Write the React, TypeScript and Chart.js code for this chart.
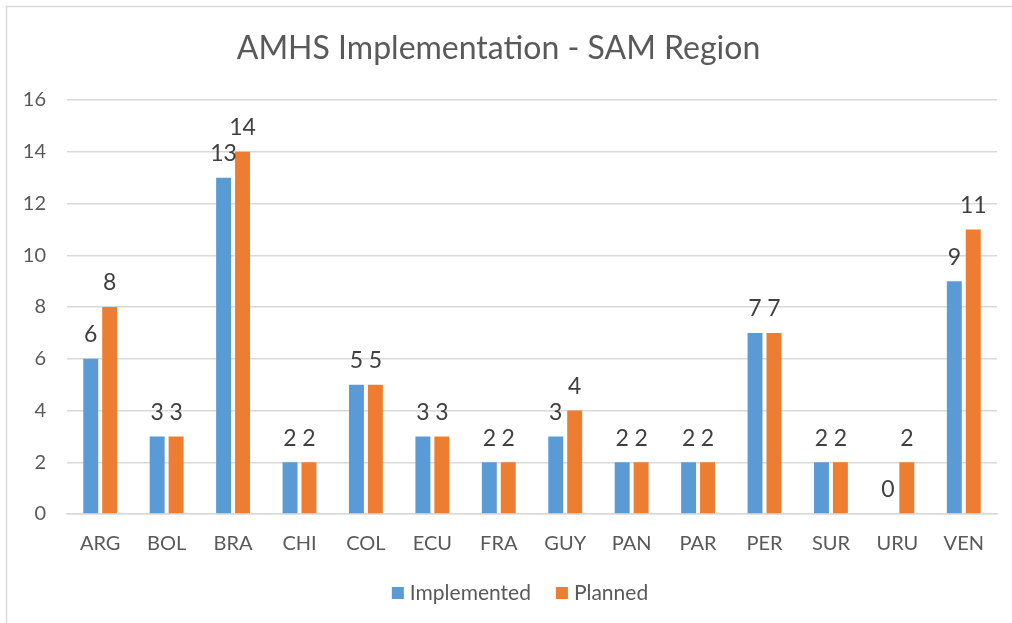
import React, { useEffect, useRef } from "react";
import { Chart, registerables } from "chart.js";

Chart.register(...registerables);

const categories = ["ARG", "BOL", "BRA", "CHI", "COL", "ECU", "FRA", "GUY", "PAN", "PAR", "PER", "SUR", "URU", "VEN"];
const implemented = [6, 3, 13, 2, 5, 3, 2, 3, 2, 2, 7, 2, 0, 9];
const planned = [8, 3, 14, 2, 5, 3, 2, 4, 2, 2, 7, 2, 2, 11];
const yTicks = [0, 2, 4, 6, 8, 10, 12, 14, 16];

const FONT = "Lato, 'Open Sans', sans-serif";

const framePlugin = {
  id: "frame",
  beforeDraw(chart: any) {
    const ctx = chart.ctx;
    ctx.save();
    ctx.fillStyle = "#ffffff";
    ctx.fillRect(0, 0, chart.width, chart.height);
    ctx.strokeStyle = "#D9D9D9";
    ctx.lineWidth = 1.5;
    ctx.beginPath();
    ctx.moveTo(6.5, chart.height + 5);
    ctx.lineTo(6.5, 6.5);
    ctx.lineTo(chart.width + 5, 6.5);
    ctx.stroke();
    ctx.restore();
  },
};

const labelPlugin = {
  id: "barLabels",
  afterDatasetsDraw(chart: any) {
    const ctx = chart.ctx;
    ctx.save();
    ctx.fillStyle = "#404040";
    ctx.font = `23px ${FONT}`;
    ctx.textAlign = "center";
    ctx.textBaseline = "middle";
    chart.data.datasets.forEach((ds: any, i: number) => {
      const meta = chart.getDatasetMeta(i);
      meta.data.forEach((bar: any, j: number) => {
        ctx.fillText(String(ds.data[j]), bar.x, bar.y - 24);
      });
    });
    ctx.restore();
  },
};

// Custom legend placed like the reference (centred below the plot)
const legendPlugin = {
  id: "customLegend",
  afterDraw(chart: any) {
    const ctx = chart.ctx;
    ctx.save();
    ctx.font = `21px ${FONT}`;
    ctx.textBaseline = "middle";
    ctx.textAlign = "left";
    const items = chart.data.datasets.map((ds: any) => ({ text: ds.label, color: ds.backgroundColor }));
    const box = 12;
    const gapBoxText = 6;
    const gapItems = 25;
    const widths = items.map((it: any) => box + gapBoxText + ctx.measureText(it.text).width);
    const total = widths.reduce((a: number, b: number) => a + b, 0) + gapItems * (items.length - 1);
    let x = 520 - total / 2;
    const cy = 593;
    items.forEach((it: any, i: number) => {
      ctx.fillStyle = it.color;
      ctx.fillRect(x, cy - box / 2, box, box);
      ctx.fillStyle = "#595959";
      ctx.fillText(it.text, x + box + gapBoxText, cy);
      x += widths[i] + gapItems;
    });
    ctx.restore();
  },
};

export default function App() {
  const ref = useRef<HTMLCanvasElement>(null);
  useEffect(() => {
    if (!ref.current) return;
    const chart = new Chart(ref.current, {
      type: "bar",
      data: {
        labels: categories,
        datasets: [
          { label: "Implemented", data: implemented, backgroundColor: "#5B9BD5", categoryPercentage: 0.57, barPercentage: 0.79 },
          { label: "Planned", data: planned, backgroundColor: "#ED7D31", categoryPercentage: 0.57, barPercentage: 0.79 },
        ],
      },
      options: {
        responsive: false,
        animation: false,
        layout: { padding: { left: 0, right: 15, top: 0, bottom: 63.5 } },
        plugins: {
          title: {
            display: true,
            text: "AMHS Implementation - SAM Region",
            color: "#595959",
            font: { family: FONT, size: 32, weight: "normal" },
            padding: { top: 29, bottom: 32.6 },
          },
          legend: { display: false },
          tooltip: { enabled: false },
        },
        scales: {
          x: {
            grid: { display: false, drawTicks: false },
            border: { color: "#D9D9D9", width: 1.5 },
            ticks: { color: "#595959", font: { family: FONT, size: 20 }, padding: 18 },
            afterFit(scale: any) {
              scale.height = 45.5;
            },
          },
          y: {
            min: 0,
            max: 16,
            afterBuildTicks(scale: any) {
              scale.ticks = yTicks.map((v) => ({ value: v }));
            },
            afterFit(scale: any) {
              scale.width = 67;
            },
            grid: { color: "#D9D9D9", lineWidth: 1.5, drawTicks: false },
            border: { display: false },
            ticks: { color: "#595959", font: { family: FONT, size: 20 }, padding: 21 },
          },
        },
      },
      plugins: [framePlugin, labelPlugin, legendPlugin],
    });
    return () => chart.destroy();
  }, []);
  return (
    <div style={{ position: "fixed", left: 0, top: 0, width: 1012, height: 623 }}>
      <canvas ref={ref} width={1012} height={623} />
    </div>
  );
}
